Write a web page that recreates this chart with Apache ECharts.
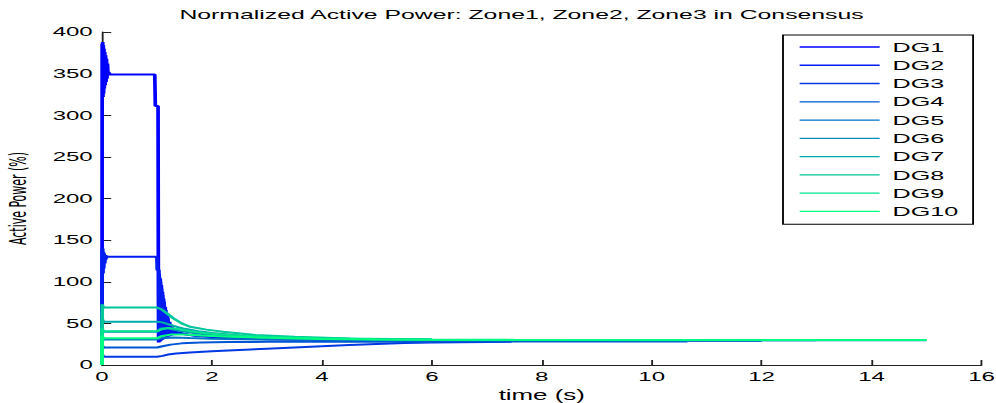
<!DOCTYPE html>
<html>
<head>
<meta charset="utf-8">
<script src="https://cdn.jsdelivr.net/npm/echarts@6/dist/echarts.min.js"></script>
<style>
html,body{margin:0;padding:0;background:#fff;overflow:hidden;width:996px;height:403px;}
#wrap{position:absolute;left:0;top:0;height:403px;transform-origin:0 0;}
</style>
</head>
<body>
<div id="wrap"></div>
<script>
// ---- data (time in s, active power in %) ----
var seriesNames = ['DG1','DG2','DG3','DG4','DG5','DG6','DG7','DG8','DG9','DG10'];
var xTicks = [0,2,4,6,8,10,12,14,16];
var yTicks = [0,50,100,150,200,250,300,350,400];

var dg1 = [[0,0],[0.003,386],[0.008,328],[0.013,388],[0.018,322],[0.024,384],[0.03,326],[0.036,380],[0.042,332],[0.05,376],[0.058,336],[0.066,372],[0.074,340],[0.082,368],[0.09,344],[0.1,362],[0.11,348],[0.12,352],[0.14,349],[0.96,349],[0.97,311],[1.02,311],[1.025,112],[1.03,27],[1.04,110],[1.05,28],[1.06,104],[1.07,29],[1.08,96],[1.09,30],[1.1,88],[1.11,31],[1.12,80],[1.13,32],[1.15,70],[1.17,33],[1.19,60],[1.21,34],[1.23,52],[1.25,35],[1.27,46],[1.3,36],[1.33,42],[1.37,37],[1.42,39],[1.5,37],[1.7,35],[2,33.5],[2.5,32],[3,31],[4,30.2],[6,29.7],[9,29.5],[12,29.4]];
var dg2 = [[0,0],[0.003,139],[0.008,112],[0.013,140],[0.018,110],[0.025,136],[0.032,116],[0.04,134],[0.05,122],[0.06,132],[0.07,127],[0.085,131],[0.1,130],[0.98,130],[1.0,128],[1.005,114],[1.035,114],[1.04,30],[1.045,106],[1.055,31],[1.065,100],[1.075,32],[1.085,92],[1.095,33],[1.105,84],[1.115,34],[1.13,76],[1.145,35],[1.16,66],[1.18,36],[1.2,56],[1.22,37],[1.24,49],[1.27,38],[1.3,44],[1.35,40],[1.45,38],[1.6,36],[2,34],[2.5,32.5],[3,31.3],[4,30.4],[6,29.8],[9,29.6],[12,29.5]];
var dg3 = [[0,0],[0.004,13],[0.015,9],[0.03,10.5],[0.05,10],[1.0,10],[1.1,11],[1.2,12.5],[1.35,13.8],[1.6,15],[2,16.5],[2.5,18],[3,19.5],[3.5,21],[4,22.5],[4.5,24],[5,25.3],[5.5,26.3],[6,27],[6.5,27.4],[7,27.7],[7.45,27.9]];
var dg4 = [[0,0],[0.004,24],[0.015,20],[0.03,21.5],[0.05,21],[1.0,21],[1.1,22.5],[1.25,24.5],[1.45,26],[1.8,27],[2.3,27.5],[3,27.8],[5,28],[7,28.1],[10.65,28.2]];
var dg5 = [[0,0],[0.004,33],[0.015,29.5],[0.03,31],[0.05,30.5],[1.0,30.5],[1.1,32],[1.3,33],[1.6,32.3],[2,31.5],[3,30.5],[5,29.9],[8,29.7],[15,29.6]];
var dg6 = [[0,0],[0.004,43],[0.015,39],[0.03,40.5],[0.05,40],[1.0,40],[1.08,44],[1.2,44],[1.4,41],[1.7,38],[2,36],[2.5,34],[3,32.8],[4,31.3],[6,30.3],[9,29.9],[13,29.8]];
var dg7 = [[0,0],[0.004,56],[0.015,51],[0.03,52.5],[0.05,52],[1.0,52],[1.08,51.5],[1.2,49],[1.35,46],[1.5,43.5],[1.75,40.5],[2,38.5],[2.5,35.5],[3,33.7],[4,31.8],[5,30.9],[6,30.4],[8,30],[12,29.8]];
var dg8 = [[0,0],[0.004,73],[0.015,68],[0.03,69.5],[0.05,69],[1.0,69],[1.08,67],[1.18,62],[1.3,56],[1.45,50],[1.6,46],[1.9,42.5],[2.2,40],[2.8,36],[3.5,33.8],[4.5,31.8],[6,30.6]];
var dg9 = [[0,0],[0.004,44],[0.015,39.5],[0.03,41],[0.05,40.5],[1.0,40.5],[1.08,43],[1.2,44.5],[1.35,43.5],[1.6,40.5],[1.9,38],[2.3,36],[3,33.8],[4,32],[5,31],[6,30.5],[7.5,30.2],[8.7,30.1]];
var dg10 = [[0,0],[0.004,35],[0.015,31],[0.03,32.5],[0.05,32],[1.0,32],[1.08,34.5],[1.25,36.5],[1.5,36.5],[1.8,35.5],[2.2,34.3],[3,32.6],[4,31.3],[5,30.6],[6,30.3],[8,30.1],[11,30],[15,30]];

var allData = [dg1,dg2,dg3,dg4,dg5,dg6,dg7,dg8,dg9,dg10];
var colors = ['#0000ff','#001cf1','#0039e3','#0055d4','#0071c6','#008eb8','#00aaaa','#00c69c','#00e38e','#00ff80'];

// ---- layout (the reference is horizontally stretched; draw narrow and stretch) ----
var S = 1.85;
var W = 996 / S;
var wrap = document.getElementById('wrap');
wrap.style.width = W + 'px';
wrap.style.transform = 'scaleX(' + S + ')';

var chart = echarts.init(wrap, null, {renderer: 'svg', width: W, height: 403});
var FONT = 'Liberation Sans, Arial, Helvetica, sans-serif';

var series = seriesNames.map(function (n, i) {
  return {
    name: n, type: 'line', data: allData[i], symbol: 'none', showSymbol: false,
    lineStyle: {width: 2, color: colors[i]}, itemStyle: {color: colors[i]},
    animation: false, z: 2 + i
  };
});

chart.setOption({
  animation: false,
  backgroundColor: '#fff',
  title: {
    text: 'Normalized Active Power: Zone1, Zone2, Zone3 in Consensus',
    left: 97, top: 8, padding: 0,
    textStyle: {fontFamily: FONT, fontSize: 13.4, fontWeight: 'normal', color: '#000'}
  },
  grid: {left: 102 / S, right: W - 981.5 / S, top: 32, bottom: 38, containLabel: false, outerBoundsMode: 'none'},
  legend: {
    data: seriesNames, orient: 'vertical',
    left: 783 / S, top: 35,
    itemWidth: 80 / S, itemHeight: 12, itemGap: 4.26,
    icon: 'path://M0,0h0.01v0.01h-0.01z M0,4.8h80v2.4h-80z M79.99,11.99h0.01v0.01h-0.01z',
    padding: [5, 8, 6, 9],
    borderColor: '#000', borderWidth: 1, backgroundColor: '#fff',
    textStyle: {fontFamily: FONT, fontSize: 13.6, color: '#000', padding: [0, 0, 0, 2]},
    selectedMode: false
  },
  xAxis: {
    type: 'value', min: 0, max: 16, interval: 2,
    name: 'time (s)', nameLocation: 'middle', nameGap: 20,
    nameTextStyle: {fontFamily: FONT, fontSize: 14, color: '#000'},
    axisLine: {show: true, lineStyle: {color: '#222', width: 1}},
    axisTick: {show: true, inside: true, length: 5, lineStyle: {color: '#222'}},
    axisLabel: {fontFamily: FONT, fontSize: 13, color: '#000', margin: 5},
    splitLine: {show: false}
  },
  yAxis: {
    type: 'value', min: 0, max: 400, interval: 50,
    name: 'Active Power (%)', nameLocation: 'middle', nameGap: 39.5,
    nameTextStyle: {fontFamily: "'Liberation Sans Narrow', 'DejaVu Sans Condensed', 'Liberation Sans', sans-serif", fontSize: 12.2, color: '#000'},
    axisLine: {show: true, lineStyle: {color: '#222', width: 1}},
    axisTick: {show: true, inside: true, length: 5, lineStyle: {color: '#222'}},
    axisLabel: {fontFamily: FONT, fontSize: 13, color: '#000', margin: 5},
    splitLine: {show: false}
  },
  series: series
});
</script>
</body>
</html>
